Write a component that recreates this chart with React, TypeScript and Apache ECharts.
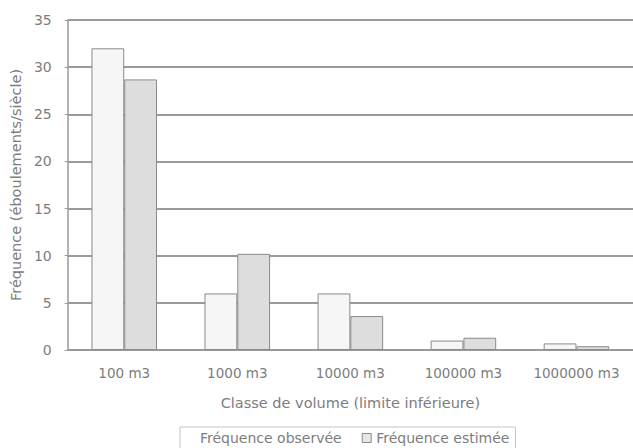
import React, { useEffect, useRef } from "react";
import * as echarts from "echarts";

const categories = ["100 m3", "1000 m3", "10000 m3", "100000 m3", "1000000 m3"];
const observed = [32, 6, 6, 1, 0.7];
const estimated = [28.7, 10.2, 3.6, 1.3, 0.4];
const seriesNames = ["Fréquence observée", "Fréquence estimée"];
const xAxisName = "Classe de volume (limite inférieure)";
const yAxisName = "Fréquence (éboulements/siècle)";

const FONT = "DejaVu Sans, Verdana, sans-serif";
const TEXT = "#7d7d7d";

export default function App() {
  const ref = useRef<HTMLDivElement>(null);
  useEffect(() => {
    if (!ref.current) return;
    const chart = echarts.init(ref.current, undefined, { renderer: "svg" });
    chart.setOption({
      animation: false,
      backgroundColor: "#ffffff",
      textStyle: { fontFamily: FONT },
      grid: { left: 67, right: 0, top: 20, bottom: 98, containLabel: false },
      legend: {
        left: 180,
        top: 427,
        icon: "rect",
        itemWidth: 9,
        itemHeight: 9,
        itemGap: 20,
        padding: [4, 6, 8, 6],
        borderColor: "#c4c4c4",
        borderWidth: 1,
        textStyle: { color: TEXT, fontSize: 14, fontFamily: FONT },
        data: [
          { name: seriesNames[0], itemStyle: { color: "#ffffff", borderColor: "#ffffff", borderWidth: 0 } },
          { name: seriesNames[1], itemStyle: { color: "#e6e6e6", borderColor: "#8a8a8a", borderWidth: 1 } },
        ],
      },
      xAxis: {
        type: "category",
        data: categories,
        name: xAxisName,
        nameLocation: "middle",
        nameGap: 45,
        nameTextStyle: { color: TEXT, fontSize: 14.5, fontFamily: FONT },
        axisLine: { lineStyle: { color: "#999999", width: 1.5 } },
        axisTick: { show: false },
        axisLabel: { color: TEXT, fontSize: 13.5, margin: 16, interval: 0, hideOverlap: false, fontFamily: FONT },
      },
      yAxis: {
        type: "value",
        min: 0,
        max: 35,
        interval: 5,
        name: yAxisName,
        nameLocation: "middle",
        nameGap: 41,
        nameTextStyle: { color: TEXT, fontSize: 14.5, fontFamily: FONT },
        axisLine: { show: true, lineStyle: { color: "#999999", width: 1.5 } },
        axisTick: { show: true, length: 3, lineStyle: { color: "#999999" } },
        axisLabel: { color: TEXT, fontSize: 14, margin: 16, fontFamily: FONT },
        splitLine: { show: true, lineStyle: { color: "#9a9a9a", width: 2 } },
      },
      series: [
        {
          name: seriesNames[0],
          type: "bar",
          data: observed,
          barWidth: "29%",
          barGap: "0%",
          itemStyle: { color: "#f6f6f6", borderColor: "#8a8a8a", borderWidth: 1 },
        },
        {
          name: seriesNames[1],
          type: "bar",
          data: estimated,
          barWidth: "29%",
          barGap: "0%",
          itemStyle: { color: "#dddddd", borderColor: "#8a8a8a", borderWidth: 1 },
        },
      ],
    });
    return () => chart.dispose();
  }, []);
  return (
    <div
      ref={ref}
      style={{ position: "fixed", left: 0, top: 0, width: 633, height: 448 }}
    />
  );
}
